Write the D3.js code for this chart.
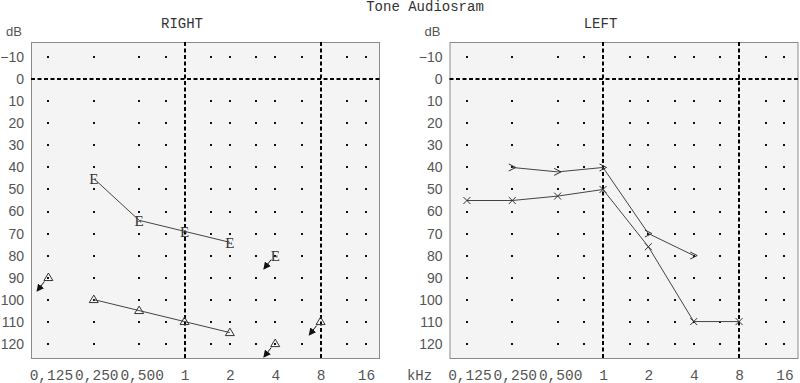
<!DOCTYPE html>
<html>
<head>
<meta charset="utf-8">
<script src="https://cdn.jsdelivr.net/npm/d3@7"></script>
<style>
    body { margin: 0; background: #fff; }
    svg { display: block; }
</style>
</head>
<body>
<div id="main"></div>
<script>
const ctx = {
    w: 800,
    h: 383,
    top: 42,
    bottom: 359,
    boxW: 349,
    BG: "#f4f4f4",
    BORDER: "#8a8a8a",
    LINE: "#444",
    LABEL: "#555",
    MONO: "'Liberation Mono', 'Courier New', monospace",
    SANS: "'Liberation Sans', Arial, sans-serif",
    SERIF: "'Liberation Serif', 'Times New Roman', serif",
};

// audiometric frequencies (Hz) and their labels
const FREQS = [125, 250, 500, 1000, 2000, 4000, 8000, 16000];
const FREQ_LABELS = ["0,125", "0,250", "0,500", "1", "2", "4", "8", "16"];
// columns of grid dots (1k and 8k are dashed lines)
const DOT_FREQS = [125, 250, 500, 750, 1500, 2000, 3000, 4000, 6000, 12000, 16000];
const DB_TICKS = [-10, 0, 10, 20, 30, 40, 50, 60, 70, 80, 90, 100, 110, 120];
const DOT_ROWS = [-10, 10, 20, 30, 40, 50, 60, 70, 80, 90, 100, 110, 120];

// RIGHT ear
const rightBoneE = [[250, 45], [500, 64], [1000, 69], [2000, 74]];
const rightBoneENoResp = [[4000, 80]];
const rightAirTri = [[250, 100], [500, 105], [1000, 110], [2000, 115]];
const rightAirTriNoResp = [[125, 90], [4000, 120], [8000, 110]];

// LEFT ear
const leftAirX = [[125, 55], [250, 55], [500, 53], [1000, 50], [2000, 76], [4000, 110], [8000, 110]];
const leftBoneGt = [[250, 40], [500, 42], [1000, 40], [2000, 70], [4000, 80]];

function createPanel(svgEl, left, title, withKhz) {
    let x = d3.scaleLog().domain([95.8, 19830]).range([left, left + ctx.boxW]);
    let y = d3.scaleLinear().domain([-17, 127]).range([ctx.top, ctx.bottom]);
    let g = svgEl.append("g");

    g.append("rect")
        .attr("x", left + 0.5).attr("y", ctx.top + 0.5)
        .attr("width", ctx.boxW - 1).attr("height", ctx.bottom - ctx.top - 1)
        .attr("fill", ctx.BG).attr("stroke", ctx.BORDER);

    // grid dots
    let cells = [];
    DOT_FREQS.forEach((f) => DOT_ROWS.forEach((d) => cells.push([f, d])));
    g.selectAll("rect.dot").data(cells).enter().append("rect")
        .attr("class", "dot")
        .attr("x", (d) => Math.round(x(d[0])) - 1)
        .attr("y", (d) => Math.round(y(d[1])) - 1)
        .attr("width", 2).attr("height", 2)
        .attr("fill", "#111");

    // dashed reference lines
    g.append("line")
        .attr("x1", left).attr("x2", left + ctx.boxW)
        .attr("y1", Math.round(y(0))).attr("y2", Math.round(y(0)))
        .attr("stroke", "#000").attr("stroke-width", 2).attr("stroke-dasharray", "4,2.5");
    g.selectAll("line.vref").data([1000, 8000]).enter().append("line")
        .attr("class", "vref")
        .attr("x1", (d) => Math.round(x(d))).attr("x2", (d) => Math.round(x(d)))
        .attr("y1", ctx.top).attr("y2", ctx.bottom)
        .attr("stroke", "#000").attr("stroke-width", 2).attr("stroke-dasharray", "4,2.5");

    // y axis
    let yAxis = g.append("g")
        .attr("transform", `translate(${left},0)`)
        .call(d3.axisLeft(y).tickValues(DB_TICKS).tickSize(0).tickPadding(7));
    yAxis.select(".domain").remove();
    yAxis.selectAll("text")
        .attr("font-family", ctx.SANS).attr("font-size", 14).attr("fill", ctx.LABEL);

    // x axis
    let xAxis = g.append("g")
        .attr("transform", `translate(0,${ctx.bottom})`)
        .call(d3.axisBottom(x).tickValues(FREQS).tickSize(0).tickPadding(11)
            .tickFormat((d, i) => FREQ_LABELS[i]));
    xAxis.select(".domain").remove();
    xAxis.selectAll("text")
        .attr("font-family", ctx.MONO).attr("font-size", 14.5).attr("fill", ctx.LABEL)
        .attr("dx", (d) => (d < 1000 ? 2.5 : 0));

    g.append("text")
        .attr("x", left - 17).attr("y", 36)
        .attr("text-anchor", "middle")
        .attr("font-family", ctx.SANS).attr("font-size", 13).attr("fill", ctx.LABEL)
        .text("dB");
    g.append("text")
        .attr("x", left + 151).attr("y", 28)
        .attr("text-anchor", "middle")
        .attr("font-family", ctx.MONO).attr("font-size", 14).attr("fill", "#333")
        .text(title);
    if (withKhz) {
        g.append("text")
            .attr("x", left - 30).attr("y", 380)
            .attr("text-anchor", "middle")
            .attr("font-family", ctx.MONO).attr("font-size", 14).attr("fill", ctx.LABEL)
            .text("kHz");
    }
    return { g: g, x: x, y: y };
}

function drawLine(p, data) {
    p.g.append("path")
        .datum(data)
        .attr("fill", "none")
        .attr("stroke", ctx.LINE)
        .attr("stroke-width", 1)
        .attr("d", d3.line().x((d) => p.x(d[0])).y((d) => p.y(d[1])));
}

function drawSymbols(p, data, pathStr) {
    p.g.selectAll(null).data(data).enter().append("path")
        .attr("transform", (d) => `translate(${p.x(d[0])},${p.y(d[1])})`)
        .attr("d", pathStr)
        .attr("fill", "none")
        .attr("stroke", "#333")
        .attr("stroke-width", 1);
}

function drawE(p, data) {
    p.g.selectAll(null).data(data).enter().append("text")
        .attr("x", (d) => p.x(d[0]))
        .attr("y", (d) => p.y(d[1]) + 5.5)
        .attr("text-anchor", "middle")
        .attr("font-family", ctx.SERIF).attr("font-size", 15).attr("fill", "#333")
        .text("E");
}

function drawNoResponse(p, data) {
    p.g.selectAll(null).data(data).enter().append("line")
        .attr("x1", (d) => p.x(d[0]) - 4).attr("y1", (d) => p.y(d[1]) + 4)
        .attr("x2", (d) => p.x(d[0]) - 11).attr("y2", (d) => p.y(d[1]) + 13)
        .attr("stroke", "#111").attr("stroke-width", 1)
        .attr("marker-end", "url(#arrow)");
}

function createViz() {
    let svgEl = d3.select("#main").append("svg")
        .attr("width", ctx.w).attr("height", ctx.h);
    svgEl.append("defs").append("marker")
        .attr("id", "arrow")
        .attr("viewBox", "0 0 10 10")
        .attr("refX", 8).attr("refY", 5)
        .attr("markerWidth", 7.5).attr("markerHeight", 7.5)
        .attr("orient", "auto")
        .append("path").attr("d", "M0,0 L10,5 L0,10 z").attr("fill", "#111");

    svgEl.append("text")
        .attr("x", 425).attr("y", 11)
        .attr("text-anchor", "middle")
        .attr("font-family", ctx.MONO).attr("font-size", 14).attr("fill", "#333")
        .text("Tone Audiosram");

    const TRI = "M0,-4.5 L4.5,3 L-4.5,3 Z";
    const CROSS = "M-3.5,-3.5 L3.5,3.5 M-3.5,3.5 L3.5,-3.5";
    const GT = "M-3.5,-3.5 L3.5,0 L-3.5,3.5";

    // RIGHT
    let r = createPanel(svgEl, 31, "RIGHT", false);
    drawLine(r, rightBoneE);
    drawE(r, rightBoneE);
    drawE(r, rightBoneENoResp);
    drawNoResponse(r, rightBoneENoResp);
    drawLine(r, rightAirTri);
    drawSymbols(r, rightAirTri, TRI);
    drawSymbols(r, rightAirTriNoResp, TRI);
    drawNoResponse(r, rightAirTriNoResp);

    // LEFT
    let l = createPanel(svgEl, 449.5, "LEFT", true);
    drawLine(l, leftBoneGt);
    drawSymbols(l, leftBoneGt, GT);
    drawLine(l, leftAirX);
    drawSymbols(l, leftAirX, CROSS);
}

createViz();
</script>
</body>
</html>
